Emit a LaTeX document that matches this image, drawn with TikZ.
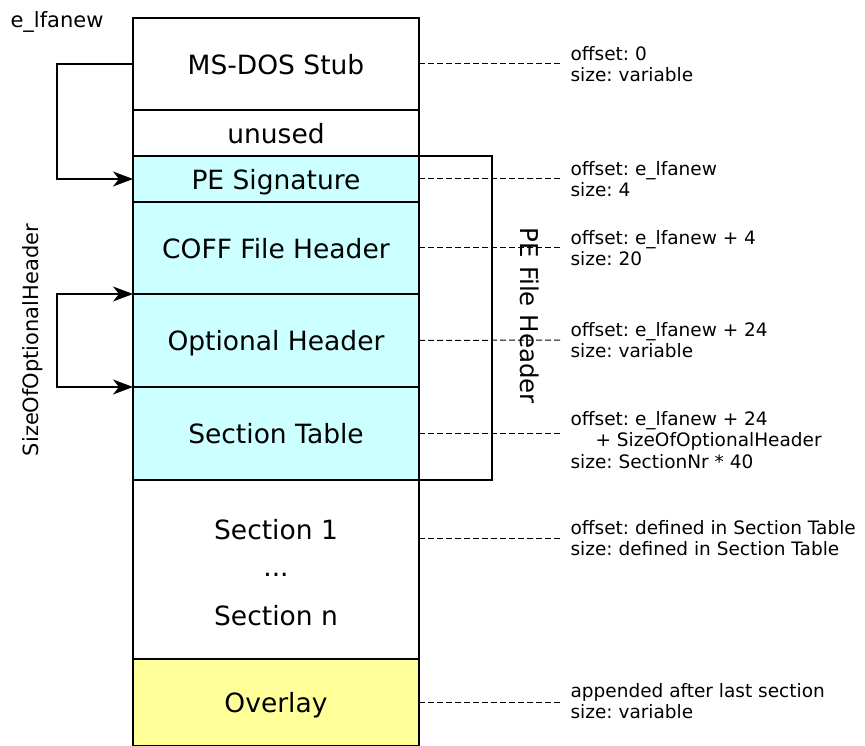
\documentclass[tikz,border=0pt]{standalone}
\usepackage{fontspec}
\setmainfont{DejaVu Sans}
\usetikzlibrary{positioning,arrows.meta}
\definecolor{hdrcyan}{RGB}{204,255,255}
\definecolor{ovlyellow}{RGB}{255,255,153}
\frenchspacing
\begin{document}
\begin{tikzpicture}[x=1pt, y=-1pt, line width=1.2pt,
	blk/.style={draw, minimum width=286pt, inner sep=0pt, outer sep=0pt, text depth=0pt, font=\fontsize{26.5}{30}\selectfont},
	sectxt/.style={inner sep=0pt, font=\fontsize{26.5}{30}\selectfont},
	note/.style={anchor=west, inner xsep=8pt, inner ysep=0pt, align=left, font=\fontsize{18.5}{21.5}\selectfont},
	lead/.style={line width=1pt, dash pattern=on 6pt off 3pt},
	ptr/.style={-{Stealth[length=20pt,width=15pt,inset=6pt]}},
	biptr/.style={{Stealth[length=20pt,width=15pt,inset=6pt]}-{Stealth[length=20pt,width=15pt,inset=6pt]}}]
	\useasboundingbox (0,0) rectangle (865,746);

	\node[blk, minimum height=92pt, anchor=north] (stub) at (276,18) {MS-DOS Stub};
	\node[blk, minimum height=46pt, below=0pt of stub] (unused) {unused};
	\node[blk, fill=hdrcyan, minimum height=46pt, below=0pt of unused] (sig) {PE Signature};
	\node[blk, fill=hdrcyan, minimum height=92pt, below=0pt of sig] (coff) {COFF File Header};
	\node[blk, fill=hdrcyan, minimum height=93pt, below=0pt of coff] (opt) {Optional Header};
	\node[blk, fill=hdrcyan, minimum height=93pt, below=0pt of opt] (tab) {Section Table};
	\node[blk, minimum height=179pt, below=0pt of tab] (sec) {};
	\node[blk, fill=ovlyellow, minimum height=87pt, below=0pt of sec] (ovl) {Overlay};

	\node[sectxt] (secone) at (276,530) {Section 1};
	\node[sectxt] (secdots) at (276,575) {...};
	\node[sectxt] (secn) at (276,616) {Section n};

	\draw (sig.north east) -- ++(73,0) |- (tab.south east);
	\node[rotate=-90, font=\fontsize{24.5}{28}\selectfont] (pfh) at (530,316) {PE File Header};

	\node[font=\fontsize{21}{25}\selectfont] (lfanew) at (57,22) {e\_lfanew};
	\draw[ptr] (stub.west) -- ++(-76,0) |- (sig.west);

	\draw[biptr] (opt.north west) -- ++(-76,0) |- (opt.south west);
	\node[rotate=90, font=\fontsize{21}{25}\selectfont] (sooh) at (33,340) {SizeOfOptionalHeader};

	\node[note] (nstub) at (562,64) {offset: 0\\size: variable};
	\node[note] (nsig) at (562,179) {offset: e\_lfanew\\size: 4};
	\node[note] (ncoff) at (562,248) {offset: e\_lfanew + 4\\size: 20};
	\node[note] (nopt) at (562,340) {offset: e\_lfanew + 24\\size: variable};
	\node[note] (ntab) at (562,440) {offset: e\_lfanew + 24\\\hspace*{25pt}+ SizeOfOptionalHeader\\size: SectionNr * 40};
	\node[note] (nsec) at (562,538) {offset: defined in Section Table\\size: defined in Section Table};
	\node[note] (novl) at (562,701) {appended after last section\\size: variable};

	\draw[lead] (stub.east) -- (nstub.west);
	\draw[lead] (sig.east) -- (nsig.west);
	\draw[lead] (coff.east) -- (ncoff.west);
	\draw[lead] (opt.east) -- (nopt.west);
	\draw[lead] (tab.east) -- (tab.east -| ntab.west);
	\draw[lead] (sec.east |- nsec.west) -- (nsec.west);
	\draw[lead] (ovl.east) -- (ovl.east -| novl.west);
\end{tikzpicture}
\end{document}
